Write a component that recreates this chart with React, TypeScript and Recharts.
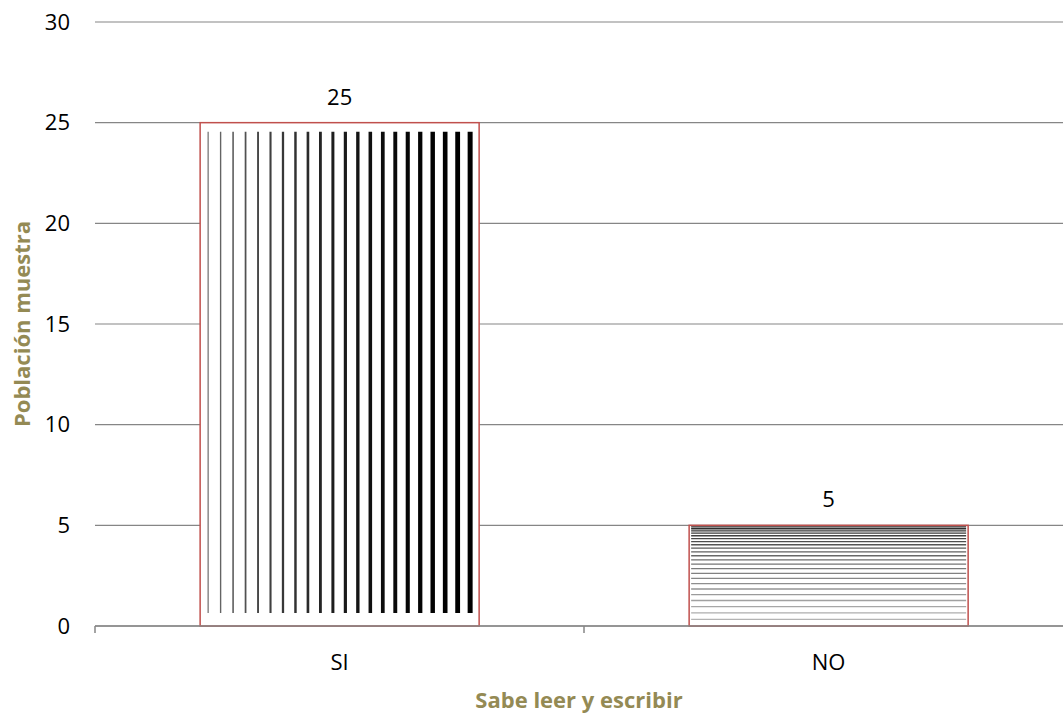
import { BarChart, Bar, XAxis, YAxis, CartesianGrid, LabelList, Label } from 'recharts'

const categories = ['SI', 'NO']
const poblacion = [25, 5]
const yTicks = [0, 5, 10, 15, 20, 25, 30]

const xTitle = 'Sabe leer y escribir'
const yTitle = 'Población muestra'

// fill style per bar: vertical stripes / horizontal lines
const fills = ['vertical', 'horizontal']

const chartData = categories.map((c, i) => ({ name: c, value: poblacion[i], fill: fills[i] }))

const FONT = '"Open Sans", "Liberation Sans", sans-serif'
const GRID = '#868686'
const OUTLINE = '#C0504D'
const TITLE = '#948A54'

function StripedBar(props: any) {
  const { x, y, width, height, payload } = props
  const kids: any[] = []

  if (payload.fill === 'vertical') {
    const n = 22
    const left = x + 8
    const step = (width - 17) / (n - 1)
    for (let i = 0; i < n; i++) {
      const t = i / (n - 1)
      const g = Math.round(110 * (1 - t) * (1 - t))
      kids.push(
        <line
          key={'v' + i}
          x1={left + i * step}
          x2={left + i * step}
          y1={y + 9}
          y2={y + height - 13}
          stroke={`rgb(${g},${g},${g})`}
          strokeWidth={1.2 + 3.8 * t}
        />
      )
    }
  } else {
    const n = 23
    for (let i = 0; i < n; i++) {
      const off = (1.5 + 1.8 * i + 0.11 * i * i) / 101 * height
      if (off > height - 2) break
      const t = i / (n - 1)
      const g = Math.round(40 + 140 * t)
      kids.push(
        <line
          key={'h' + i}
          x1={x + 2}
          x2={x + width - 2}
          y1={y + off}
          y2={y + off}
          stroke={`rgb(${g},${g},${g})`}
          strokeWidth={1.3}
        />
      )
    }
  }

  return (
    <g>
      <rect x={x} y={y} width={width} height={height} fill="#fff" />
      {kids}
      <rect x={x} y={y} width={width} height={height} fill="none" stroke={OUTLINE} strokeWidth={1.5} />
    </g>
  )
}

function CategoryTick(props: any) {
  const { x, y, payload } = props
  const off = payload?.offset ?? 244
  return (
    <g>
      <line x1={x - off} x2={x - off} y1={y} y2={y + 7} stroke={GRID} strokeWidth={1.5} />
      <text x={x} y={y + 44} textAnchor="middle" fill="#000" fontSize={22} fontFamily={FONT}>
        {payload.value}
      </text>
    </g>
  )
}

export default function App() {
  return (
    <div style={{ position: 'absolute', left: 0, top: 0, width: 1063, height: 713, background: '#fff', overflow: 'hidden' }}>
      <BarChart
        width={1063}
        height={713}
        data={chartData}
        margin={{ top: 22, right: -10, bottom: 0, left: 0 }}
        barCategoryGap="21.5%"
      >
        <CartesianGrid vertical={false} stroke={GRID} strokeWidth={1.2} />

        <XAxis
          dataKey="name"
          height={87}
          stroke={GRID}
          strokeWidth={1.5}
          tickLine={false}
          tickSize={0}
          tickMargin={0}
          tick={<CategoryTick />}
          interval={0}
        >
          <Label
            content={(p: any) => {
              const vb = p.viewBox
              return (
                <text
                  x={vb.x + vb.width / 2 - 5}
                  y={vb.y + vb.height - 5}
                  textAnchor="middle"
                  fill={TITLE}
                  fontSize={22}
                  fontWeight="bold"
                  fontFamily={FONT}
                >
                  {xTitle}
                </text>
              )
            }}
          />
        </XAxis>

        <YAxis
          width={95}
          domain={[0, 30]}
          ticks={yTicks}
          axisLine={false}
          tickLine={false}
          tickSize={6}
          tickMargin={19}
          tick={{ fill: '#000', fontSize: 22, fontFamily: FONT }}
        >
          <Label
            content={(p: any) => {
              const vb = p.viewBox
              const cx = vb.x + 21
              const cy = vb.y + vb.height / 2
              return (
                <text
                  x={cx}
                  y={cy}
                  transform={`rotate(-90 ${cx} ${cy})`}
                  textAnchor="middle"
                  dominantBaseline="central"
                  fill={TITLE}
                  fontSize={22}
                  fontWeight="bold"
                  fontFamily={FONT}
                >
                  {yTitle}
                </text>
              )
            }}
          />
        </YAxis>

        <Bar dataKey="value" shape={<StripedBar />} isAnimationActive={false}>
          <LabelList
            dataKey="value"
            position="top"
            offset={18}
            fill="#000"
            fontSize={22}
            fontFamily={FONT}
          />
        </Bar>
      </BarChart>
    </div>
  )
}
